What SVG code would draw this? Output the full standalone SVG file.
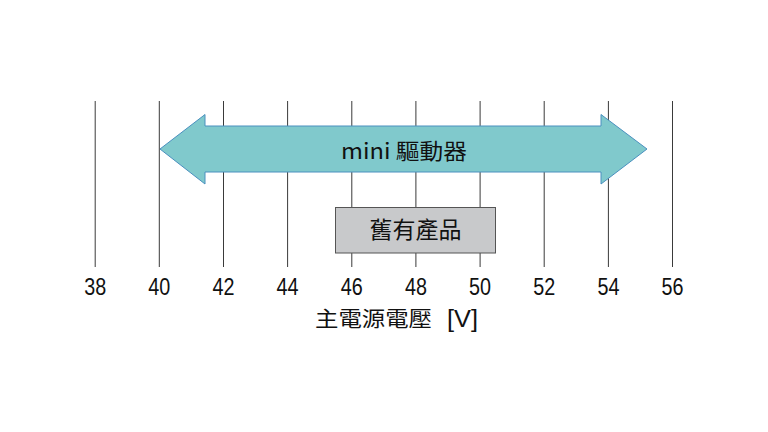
<svg xmlns="http://www.w3.org/2000/svg" width="768" height="432" viewBox="0 0 768 432">
<style>
.grid{stroke:#3a3a3a;stroke-width:1;fill:none}
.tick{font-family:"Liberation Sans","Noto Sans",sans-serif;font-size:23px;fill:#111;text-anchor:middle}
.cjk{font-family:"Noto Sans CJK TC","Noto Sans CJK SC",sans-serif;fill:#111}
</style>
<rect width="768" height="432" fill="#ffffff"/>
<g id="grid">
<line class="grid" x1="95.2" y1="101" x2="95.2" y2="267"/>
<line class="grid" x1="159.3" y1="101" x2="159.3" y2="267"/>
<line class="grid" x1="223.5" y1="101" x2="223.5" y2="267"/>
<line class="grid" x1="287.6" y1="101" x2="287.6" y2="267"/>
<line class="grid" x1="351.8" y1="101" x2="351.8" y2="267"/>
<line class="grid" x1="415.9" y1="101" x2="415.9" y2="267"/>
<line class="grid" x1="480.1" y1="101" x2="480.1" y2="267"/>
<line class="grid" x1="544.2" y1="101" x2="544.2" y2="267"/>
<line class="grid" x1="608.4" y1="101" x2="608.4" y2="267"/>
<line class="grid" x1="672.5" y1="101" x2="672.5" y2="267"/>
</g>
<g id="mini-drive">
<polygon points="160,149 205,114.5 205,126 601,126 601,114.5 647,149 601,184 601,172 205,172 205,184" fill="#80c9cc" stroke="#4a90bf" stroke-width="1"/>
<text class="cjk" x="341" y="158.5" font-size="22" textLength="126" lengthAdjust="spacingAndGlyphs">mini 驅動器</text>
</g>
<g id="legacy-product">
<rect x="335.5" y="207.5" width="160" height="45.5" fill="#c8c9cb" stroke="#555555" stroke-width="1"/>
<text class="cjk" x="415.5" y="238" font-size="23" text-anchor="middle">舊有產品</text>
</g>
<g id="axis">
<text class="tick" x="95.2" y="295" textLength="22" lengthAdjust="spacingAndGlyphs">38</text>
<text class="tick" x="159.3" y="295" textLength="22" lengthAdjust="spacingAndGlyphs">40</text>
<text class="tick" x="223.5" y="295" textLength="22" lengthAdjust="spacingAndGlyphs">42</text>
<text class="tick" x="287.6" y="295" textLength="22" lengthAdjust="spacingAndGlyphs">44</text>
<text class="tick" x="351.8" y="295" textLength="22" lengthAdjust="spacingAndGlyphs">46</text>
<text class="tick" x="415.9" y="295" textLength="22" lengthAdjust="spacingAndGlyphs">48</text>
<text class="tick" x="480.1" y="295" textLength="22" lengthAdjust="spacingAndGlyphs">50</text>
<text class="tick" x="544.2" y="295" textLength="22" lengthAdjust="spacingAndGlyphs">52</text>
<text class="tick" x="608.4" y="295" textLength="22" lengthAdjust="spacingAndGlyphs">54</text>
<text class="tick" x="672.5" y="295" textLength="22" lengthAdjust="spacingAndGlyphs">56</text>
<text class="cjk" x="315" y="326" font-size="21"><tspan textLength="117" lengthAdjust="spacingAndGlyphs">主電源電壓</tspan> <tspan x="447" y="326.5" font-family="Liberation Sans, sans-serif" font-size="23" textLength="31" lengthAdjust="spacingAndGlyphs">[V]</tspan></text>
</g>
</svg>
